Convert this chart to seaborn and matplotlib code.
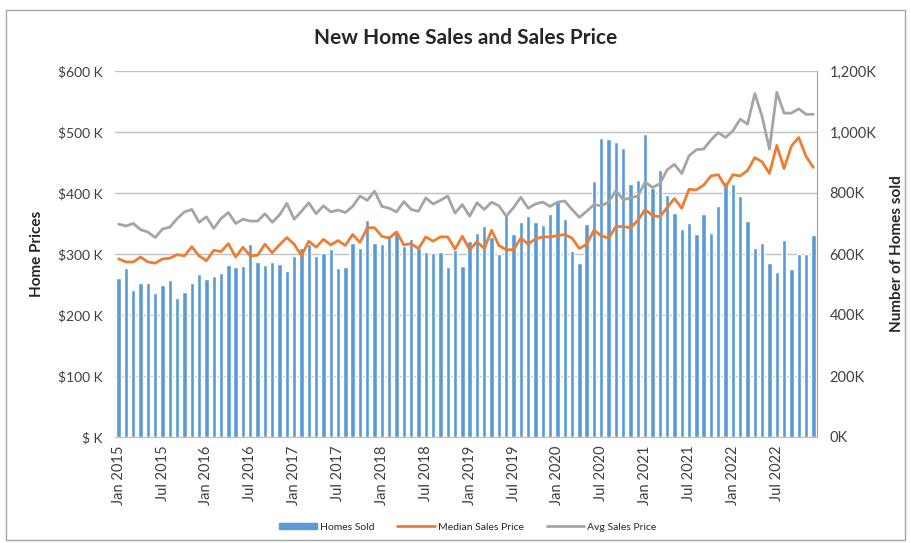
import numpy as np
import pandas as pd
import matplotlib.pyplot as plt
import seaborn as sns
from matplotlib.patches import Patch, Rectangle
from matplotlib.lines import Line2D

# Monthly data, Jan 2015 - Dec 2022 (values in thousands)
homes_sold = [521, 554, 483, 504, 504, 473, 498, 514, 455, 475, 504, 534,
              518, 527, 538, 564, 557, 560, 632, 573, 564, 573, 567, 544,
              595, 619, 634, 592, 603, 616, 554, 557, 636, 619, 710, 636,
              632, 662, 671, 627, 649, 619, 608, 603, 605, 557, 614, 562,
              643, 669, 693, 656, 599, 728, 664, 705, 726, 705, 695, 731,
              773, 715, 611, 570, 698, 840, 979, 976, 966, 948, 828, 842,
              993, 817, 874, 795, 734, 682, 703, 667, 731, 670, 757, 836,
              830, 790, 707, 619, 636, 570, 542, 646, 550, 600, 600, 662]
median_price = [292, 287, 287, 295, 287, 285, 292, 293, 299, 297, 312, 297,
                289, 306, 304, 317, 295, 311, 297, 298, 316, 302, 315, 327,
                316, 297, 321, 311, 324, 315, 322, 314, 332, 319, 343, 343,
                329, 326, 336, 315, 317, 309, 328, 321, 328, 328, 308, 329,
                307, 320, 309, 339, 314, 307, 307, 326, 316, 325, 328, 328,
                330, 332, 326, 309, 316, 339, 330, 326, 345, 345, 343, 355,
                373, 363, 361, 376, 391, 375, 406, 405, 413, 428, 430, 410,
                430, 428, 437, 458, 451, 432, 478, 440, 477, 491, 460, 442]
avg_price = [349, 346, 350, 340, 336, 327, 341, 344, 358, 369, 373, 352,
             361, 342, 358, 368, 350, 357, 354, 354, 366, 352, 364, 383,
             357, 370, 384, 366, 379, 369, 372, 368, 378, 395, 388, 403,
             378, 375, 369, 386, 373, 370, 392, 382, 388, 395, 367, 381,
             362, 384, 373, 385, 379, 362, 376, 393, 375, 382, 385, 378,
             385, 387, 373, 360, 370, 381, 379, 385, 404, 389, 392, 395,
             418, 409, 415, 438, 447, 432, 461, 471, 472, 487, 499, 491,
             502, 521, 513, 563, 525, 472, 565, 531, 531, 538, 529, 529]

x_tick_labels = ["Jan 2015", "Jul 2015", "Jan 2016", "Jul 2016", "Jan 2017", "Jul 2017",
                 "Jan 2018", "Jul 2018", "Jan 2019", "Jul 2019", "Jan 2020", "Jul 2020",
                 "Jan 2021", "Jul 2021", "Jan 2022", "Jul 2022"]
price_ticks = [0, 100, 200, 300, 400, 500, 600]
price_tick_labels = ["$ K", "$100 K", "$200 K", "$300 K", "$400 K", "$500 K", "$600 K"]
homes_ticks = [0, 200, 400, 600, 800, 1000, 1200]
homes_tick_labels = ["0K", "200K", "400K", "600K", "800K", "1,000K", "1,200K"]

df = pd.DataFrame({"pos": np.arange(len(homes_sold)), "homes": homes_sold,
                   "median": median_price, "avg": avg_price})

BLUE = "#5B9BD5"
ORANGE = "#ED7D31"
GRAY = "#A5A5A5"

sns.set_style("white")
plt.rcParams["font.family"] = ["Lato", "DejaVu Sans"]

W, H = 911, 543
fig = plt.figure(figsize=(W / 100, H / 100), dpi=100)
left, right, top, bottom = 115, 817, 71, 437
ax = fig.add_axes([left / W, 1 - bottom / H, (right - left) / W, (bottom - top) / H])

# bars (right axis) on the base axes so the lines sit on top
sns.barplot(data=df, x="pos", y="homes", color=BLUE, saturation=1, width=0.6, ax=ax)
ax.set_axisbelow(True)
ax.grid(axis="y", color="#c0c0c0", lw=1)

ax2 = ax.twinx()
sns.lineplot(data=df, x="pos", y="median", color=ORANGE, lw=2, ax=ax2)
sns.lineplot(data=df, x="pos", y="avg", color=GRAY, lw=2, ax=ax2)

# swap sides: homes on the right, prices on the left
ax.set_ylim(0, 1200)
ax.set_yticks(homes_ticks)
ax.set_yticklabels(homes_tick_labels)
ax.yaxis.tick_right()
ax.yaxis.set_label_position("right")
ax.set_ylabel("Number of Homes sold", fontsize=11, fontweight="bold", labelpad=10)

ax2.set_ylim(0, 600)
ax2.set_yticks(price_ticks)
ax2.set_yticklabels(price_tick_labels)
ax2.yaxis.tick_left()
ax2.yaxis.set_label_position("left")
ax2.set_ylabel("Home Prices", fontsize=11, fontweight="bold", labelpad=10)

ax.set_xlim(-0.5, len(homes_sold) - 0.5)
ax.set_xticks(np.arange(0, len(homes_sold), 6))
ax.set_xticklabels(x_tick_labels, rotation=90)
ax.set_xlabel("")

for a in (ax, ax2):
    a.tick_params(axis="both", length=0, labelsize=10.5, labelcolor="#404040")
    for s in a.spines.values():
        s.set_visible(False)
ax.tick_params(axis="y", pad=9)
ax2.tick_params(axis="y", pad=9, labelsize=10)
ax.tick_params(axis="x", pad=6)
ax.spines["bottom"].set_visible(True)
ax.spines["bottom"].set_color("#bfbfbf")
ax.spines["right"].set_visible(True)
ax.spines["right"].set_color("#a0a0a0")

fig.text(466 / W, 1 - 38 / H, "New Home Sales and Sales Price", ha="center", va="center",
         fontsize=15, fontweight="bold")

handles = [Patch(facecolor=BLUE, edgecolor=BLUE),
           Line2D([], [], color=ORANGE, lw=2),
           Line2D([], [], color=GRAY, lw=2)]
fig.legend(handles, ["Homes Sold", "Median Sales Price", "Avg Sales Price"],
           loc="center", bbox_to_anchor=(468 / W, 1 - 527 / H), ncol=3, frameon=False,
           fontsize=7.5, handlelength=3.6, handleheight=0.55, columnspacing=2.2, handletextpad=0.3)

fig.patches.append(Rectangle((6 / W, 3 / H), (905 - 6) / W, (533 - 3) / H,
                             transform=fig.transFigure, fill=False, edgecolor="#a6a6a6", lw=1))

fig.savefig("out.png", dpi=100)
